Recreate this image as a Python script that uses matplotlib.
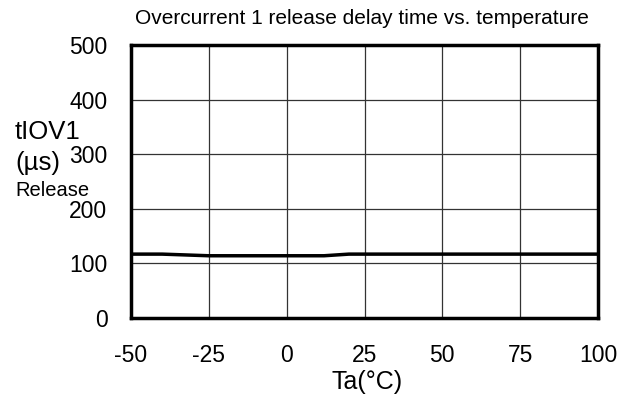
import matplotlib
matplotlib.use("Agg")
import matplotlib.pyplot as plt

plt.rcParams['font.family'] = ['Liberation Sans', 'DejaVu Sans']

temps = [-50, -40, -25, 0, 12, 20, 50, 75, 100]
delay = [117, 117, 114, 114, 114, 117, 117, 117, 117]
xticks = [-50, -25, 0, 25, 50, 75, 100]
xlabels = ['-50', '-25', '0', '25', '50', '75', '100']
yticks = [0, 100, 200, 300, 400, 500]

fig = plt.figure(figsize=(6.2, 4.01), dpi=100)
ax = fig.add_axes([131/620, 1-318/401, (598-131)/620, (318-45)/401])
ax.plot(temps, delay, color='black', lw=2.5)
ax.set_xlim(-50, 100)
ax.set_ylim(0, 500)
ax.set_xticks(xticks)
ax.set_xticklabels(xlabels)
ax.set_yticks(yticks)
ax.grid(True, color='#333333', lw=0.9)
for s in ax.spines.values():
    s.set_linewidth(2.5)
ax.tick_params(axis='both', length=0, labelsize=16.5)
ax.tick_params(axis='x', pad=19)
ax.tick_params(axis='y', pad=17)
ax.set_xlabel('Ta(°C)', fontsize=18, va='center')
ax.xaxis.set_label_coords(0.505, -(382-318)/273)
fig.text(362/620, 1-18/401, 'Overcurrent 1 release delay time vs. temperature', ha='center', va='center', fontsize=15)
fig.text(15/620, 1-132/401, 'tIOV1', fontsize=18.5, ha='left', va='center')
fig.text(15/620, 1-163/401, '(µs)', fontsize=18.5, ha='left', va='center')
fig.text(15/620, 1-190/401, 'Release', fontsize=14.5, ha='left', va='center')
fig.savefig('out.png', dpi=100)
